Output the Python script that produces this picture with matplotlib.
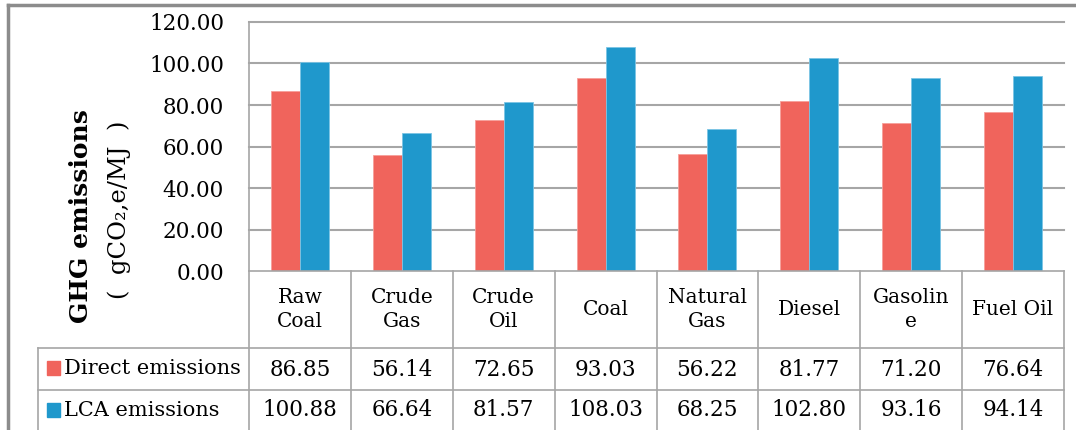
import matplotlib
matplotlib.use("Agg")
import matplotlib.pyplot as plt
from matplotlib.lines import Line2D

categories = ["Raw\nCoal", "Crude\nGas", "Crude\nOil", "Coal", "Natural\nGas",
              "Diesel", "Gasolin\ne", "Fuel Oil"]
direct = [86.85, 56.14, 72.65, 93.03, 56.22, 81.77, 71.20, 76.64]
lca = [100.88, 66.64, 81.57, 108.03, 68.25, 102.80, 93.16, 94.14]
series_names = ["Direct emissions", "LCA emissions"]
yticks = [0, 20, 40, 60, 80, 100, 120]

RED = "#F0645C"
BLUE = "#1F98CC"
GRID = "#A6A6A6"
SERIF = "DejaVu Serif"

W, H = 1076, 430
fig = plt.figure(figsize=(W / 100, H / 100), dpi=100)
fig.patch.set_facecolor("white")

# layout in pixels (top-left origin)
left, right, top, base = 249, 1064, 22, 271
cat_bottom, row1_bottom = 348, 390
legend_left = 38


def fx(x):
    return x / W


def fy(y):
    return 1 - y / H


def hline(y, x0, x1, color=GRID, lw=1.2):
    fig.add_artist(Line2D([fx(x0), fx(x1)], [fy(y), fy(y)], color=color, lw=lw))


def vline(x, y0, y1, color=GRID, lw=1.2):
    fig.add_artist(Line2D([fx(x), fx(x)], [fy(y0), fy(y1)], color=color, lw=lw))


ax = fig.add_axes([fx(left), fy(base), fx(right) - fx(left), fy(top) - fy(base)])
n = len(categories)
xs = range(n)
bw = 0.285
ax.bar([x - bw / 2 for x in xs], direct, bw, color=RED, edgecolor="#F6A09A", lw=0.6, zorder=3)
ax.bar([x + bw / 2 for x in xs], lca, bw, color=BLUE, edgecolor="#7CC4E4", lw=0.6, zorder=3)
ax.set_xlim(-0.5, n - 0.5)
ax.set_ylim(0, 120)
ax.set_yticks(yticks)
ax.set_yticklabels([f"{v:.2f}" for v in yticks], family=SERIF, fontsize=15.5)
ax.tick_params(axis="y", length=0, pad=18)
ax.set_xticks([])
for v in yticks[1:]:
    ax.axhline(v, color=GRID, lw=1.5, zorder=1, clip_on=False)
for s in ["top", "right", "bottom"]:
    ax.spines[s].set_visible(False)
ax.spines["left"].set_color(GRID)
ax.spines["left"].set_linewidth(1.2)

# data table under the plot
cw = (right - left) / n
hline(base, left, right)
hline(cat_bottom, legend_left, right)
hline(row1_bottom, legend_left, right)
for k in range(n + 1):
    vline(left + k * cw, base, H)
vline(legend_left, cat_bottom, H)

for k, cat in enumerate(categories):
    cx = left + (k + 0.5) * cw
    fig.text(fx(cx), fy((base + cat_bottom) / 2), cat, ha="center", va="center",
             family=SERIF, fontsize=14.5, linespacing=1.35)
    fig.text(fx(cx), fy((cat_bottom + row1_bottom) / 2 + 1), f"{direct[k]:.2f}",
             ha="center", va="center", family=SERIF, fontsize=15.5)
    fig.text(fx(cx), fy(row1_bottom + 20), f"{lca[k]:.2f}",
             ha="center", va="center", family=SERIF, fontsize=15.5)

for name, col, cy in [(series_names[0], RED, 368), (series_names[1], BLUE, 410)]:
    fig.add_artist(plt.Rectangle((fx(47), fy(cy + 7)), fx(13), fy(0) - fy(14),
                                 color=col, transform=fig.transFigure))
    fig.text(fx(64), fy(cy), name, ha="left", va="center", family=SERIF, fontsize=15)

# axis title, two lines
fig.text(fx(81), fy(216), "GHG emissions", rotation=90, ha="center", va="center",
         family=SERIF, fontsize=18, fontweight="bold")
fig.text(fx(119), fy(210), "(  gCO\u2082,e/MJ  )", rotation=90, ha="center", va="center",
         family=SERIF, fontsize=17.5)

# outer frame
hline(5, 8, W, color="#8C8C8C", lw=2.5)
vline(8, 5, H, color="#8C8C8C", lw=2.5)

fig.savefig("out.png", dpi=100)
